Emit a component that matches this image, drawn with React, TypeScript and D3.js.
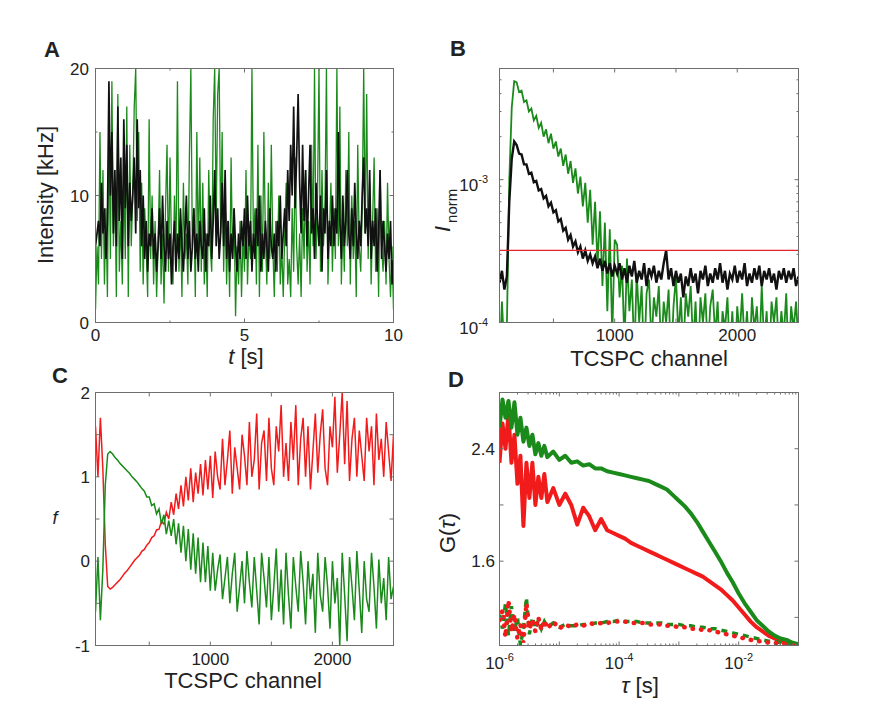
import React from "react";
import * as d3 from "d3";

// ---------------- data ----------------

// A: intensity traces, one value per 0.05 s bin
const binA = 0.05;
const greenA = [
  1, 6, 3, 15, 5, 12, 3, 9, 2, 16, 5, 19, 6, 11, 2, 18, 4, 8, 3, 12,
  5, 17, 2, 14, 6, 10, 17, 20, 8, 15, 4, 11, 3, 9, 6, 2, 16, 5, 10, 3,
  8, 2, 6, 12, 3, 7, 1.5, 9, 14, 4, 13, 6, 3, 10, 5, 19, 4, 8, 2, 11,
  5, 7, 3, 13, 20, 6, 9, 2, 15, 5, 13, 4, 11, 3, 7, 2, 12, 6, 4, 16,
  20, 8, 18, 20, 7, 15, 4, 10, 3, 8, 2, 13, 5, 9, 0.5, 6, 3, 8, 2, 7,
  4, 12, 3, 7, 5, 20, 6, 9, 3, 14, 2, 10, 4, 15, 7, 3, 11, 5, 14, 6,
  2, 8, 4, 10, 3, 6, 2, 7, 11, 3, 5, 2, 9, 4, 13, 6, 3, 7, 2, 9,
  5, 12, 4, 8, 3, 14, 6, 20, 5, 10, 20, 4, 12, 6, 9, 20, 3, 7, 11, 4,
  9, 5, 20, 6, 17, 3, 8, 4, 12, 6, 15, 3, 10, 5, 8, 2, 14, 6, 4, 9,
  20, 7, 18, 5, 11, 3, 8, 13, 4, 9, 2, 12, 6, 4, 8, 3, 11, 5, 2, 6,
  1,
];
const blackA = [
  6, 7, 8, 6, 11, 7, 9, 5, 8, 19, 10, 15, 7, 12, 6, 17, 8, 13, 5, 16,
  9, 14, 6, 11, 8, 10, 13, 7, 16, 9, 12, 6, 10, 5, 8, 4, 7, 6, 9, 5,
  7, 4, 6, 9, 5, 10, 6, 4, 8, 5, 7, 3, 6, 8, 4, 7, 5, 9, 6, 4,
  7, 10, 5, 8, 4, 6, 9, 5, 7, 4, 8, 6, 5, 9, 4, 7, 6, 10, 5, 8,
  12, 6, 9, 5, 7, 11, 6, 12, 5, 8, 4, 7, 5, 9, 6, 4, 7, 5, 8, 6,
  9, 5, 10, 6, 8, 4, 7, 5, 9, 6, 10, 4, 7, 5, 8, 6, 4, 9, 6, 5,
  7, 4, 8, 6, 10, 5, 7, 9, 6, 12, 8, 14, 10, 17, 9, 13, 18, 11, 7, 14,
  8, 12, 6, 10, 14, 7, 9, 5, 11, 8, 6, 10, 4, 9, 7, 12, 5, 8, 6, 10,
  6, 9, 7, 15, 8, 5, 10, 6, 8, 12, 7, 5, 9, 6, 11, 7, 5, 8, 6, 10,
  13, 7, 9, 6, 12, 5, 8, 6, 9, 4, 7, 12, 5, 8, 6, 4, 7, 5, 8, 3,
  5,
];

// B and C: TCSPC channels 60, 80, ... 2500
const chan0 = 60;
const chanStep = 20;
// B: normalised decays, in units of 1e-4
const blackB = [
  1.9, 2.3, 1.7, 2.1, 7, 14, 18.5,
  17.5, 15.2, 15.0, 12.8, 12.8, 11.0, 11.2, 9.6, 9.8, 8.4, 8.6, 7.4, 7.7, 6.5,
  6.9, 5.9, 6.1, 5.1, 5.3, 4.4, 4.6, 3.8, 4.1, 3.4, 3.7, 3.1, 3.4, 2.8,
  3.2, 2.7, 3.0, 2.6, 2.9, 2.4, 2.8, 2.3, 2.7, 2.2, 2.6, 2.1, 2.5,
  2.2, 2.6, 2.0, 2.4, 1.9, 2.5, 2.1, 2.7, 1.9, 2.3, 2.0, 2.6, 1.8, 2.4, 2.1,
  2.5, 1.9, 2.3, 2.0, 2.6, 3.2, 2.0, 2.4, 1.8, 2.3, 1.9, 2.2, 1.5, 2.1, 1.8,
  2.4, 1.9, 2.2, 1.6, 2.3, 2.0, 2.5, 1.8, 2.2, 1.9, 2.4, 2.0, 2.6, 1.9, 2.3,
  1.7, 2.2, 2.0, 2.5, 1.9, 2.3, 2.0, 2.6, 1.8, 2.2, 1.9, 2.4, 2.0, 2.5, 1.8,
  2.3, 2.0, 2.4, 1.9, 2.2, 1.7, 2.3, 2.0, 2.4, 1.9, 2.3, 2.0, 2.4, 1.8, 2.1,
];
const greenB = [
  0.5, 1.4, 0.6, 0.9, 10, 32, 49,
  48, 41, 42, 35, 36, 30, 31.5, 26, 28, 23, 25, 20, 22.5, 18,
  21, 16.5, 18.5, 14.5, 16.5, 12.5, 15, 11, 13.5, 9.5, 12, 8, 10.5, 6.5,
  9.5, 5, 8.5, 3.5, 7, 2.5, 6, 1.8, 5, 1.2, 4.5, 0.8, 3.8,
  3.5, 1.5, 2.5, 0.7, 2.8, 1.2, 2.0, 0.6, 2.2, 1.0, 1.8, 0.5, 1.6, 2.0, 0.7,
  1.5, 1.1, 1.8, 0.6, 1.4, 1.0, 1.7, 0.5, 1.3, 2.1, 0.8, 1.5, 0.6, 1.6, 1.1,
  1.8, 0.7, 1.4, 0.5, 1.5, 1.0, 1.6, 0.6, 1.3, 1.7, 0.8, 1.4, 0.5, 1.2, 0.9,
  1.5, 0.6, 1.2, 0.5, 1.3, 0.8, 1.6, 0.7, 1.2, 0.5, 1.5, 0.9, 1.3, 0.6, 1.8,
  0.7, 1.2, 0.5, 1.4, 1.0, 1.5, 0.6, 1.2, 0.8, 1.6, 0.5, 1.3, 0.9, 1.4, 0.7,
];
const thresholdB = 3.2;

// C: filter functions
const redC = [
  1.6, 1.0, 1.7, 1.1, 0.2,
  -0.3, -0.33, -0.31, -0.28, -0.25, -0.22, -0.18, -0.14, -0.11, -0.07, -0.03,
  0.01, 0.04, 0.07, 0.12, 0.14, 0.19, 0.22, 0.28, 0.3, 0.37, 0.38, 0.47, 0.44,
  0.58, 0.5, 0.7, 0.55, 0.8, 0.62, 0.9, 0.65, 1.0, 0.72, 1.1, 0.7, 1.05, 0.8,
  1.15, 0.78, 1.2, 0.85, 1.25,
  0.75, 1.3, 1.0, 0.85, 1.45, 0.9, 1.2, 1.55, 0.8, 1.35, 1.1, 0.85, 1.5, 1.25, 0.9,
  1.65, 1.0, 1.2, 1.75, 0.85, 1.4, 1.55, 0.95, 1.7, 1.1, 0.9, 1.6, 1.3, 1.85, 1.0,
  1.4, 0.95, 1.65, 1.2, 1.85, 0.9, 1.45, 1.7, 1.0, 1.6, 0.85, 1.3, 1.75, 1.05, 1.5,
  1.8, 1.1, 0.9, 1.6, 1.35, 1.95, 1.05, 1.5, 2.0, 1.15, 1.9, 0.95, 1.45, 1.7, 1.0,
  1.55, 1.25, 0.95, 1.7, 1.3, 1.6, 0.9, 1.75, 1.2, 1.45, 1.0, 1.65, 1.3, 0.95, 1.5,
];
const greenC = [
  -0.6, 0.05, -0.7, -0.1, 0.9,
  1.27, 1.3, 1.27, 1.23, 1.2, 1.16, 1.13, 1.1, 1.07, 1.04, 1.0,
  0.97, 0.94, 0.9, 0.86, 0.83, 0.76, 0.76, 0.66, 0.68, 0.56, 0.62, 0.44, 0.55,
  0.32, 0.48, 0.3, 0.5, 0.2, 0.45, 0.1, 0.42, 0.0, 0.38, -0.1, 0.33, -0.15, 0.28,
  -0.25, 0.22, -0.25, 0.18, -0.35,
  0.1, -0.35, -0.1, 0.08, -0.45, -0.2, 0.05, -0.5, -0.15, 0.1, -0.6, -0.3, 0.0, -0.5, 0.12,
  -0.25, -0.55, 0.05, -0.35, -0.75, 0.1, -0.2, -0.55, 0.05, -0.7, -0.3, 0.15, -0.6, -0.1, -0.75,
  0.1, -0.4, -0.8, 0.05, -0.3, -0.6, 0.12, -0.25, -0.75, 0.0, -0.45, -0.15, -0.85, 0.1, -0.4,
  -0.6, 0.05, -0.3, -0.8, 0.0, -0.5, -0.2, -1.0, 0.1, -0.4, -0.95, 0.05, -0.3, -0.7, 0.12,
  -0.35, -0.85, 0.0, -0.45, -0.6, 0.1, -0.3, -0.8, 0.02, -0.5, -0.2, -0.7, 0.05, -0.45, -0.3,
];

// D: correlation curves, lag time as log10(tau / s)
const lagExpD = [
  -6, -5.95, -5.9, -5.85, -5.8, -5.75, -5.7, -5.65, -5.6, -5.55, -5.5, -5.45,
  -5.4, -5.35, -5.3, -5.25, -5.2, -5.1, -5.0, -4.9, -4.8, -4.7, -4.6, -4.5,
  -4.4, -4.3, -4.2, -4.1, -4.0, -3.9, -3.8, -3.7, -3.6, -3.5, -3.4, -3.3,
  -3.2, -3.1, -3.0, -2.9, -2.8, -2.7, -2.6, -2.5, -2.4, -2.3, -2.2, -2.1,
  -2.0, -1.9, -1.8, -1.7, -1.6, -1.5, -1.4, -1.3, -1.2, -1.1, -1.0,
];
const greenD = [
  2.55, 2.75, 2.62, 2.74, 2.55, 2.73, 2.5, 2.62, 2.45, 2.55, 2.42, 2.5,
  2.36, 2.44, 2.35, 2.42, 2.34, 2.38, 2.32, 2.35, 2.3, 2.31, 2.28, 2.29,
  2.26, 2.26, 2.24, 2.23, 2.22, 2.21, 2.2, 2.19, 2.18, 2.17, 2.15, 2.13,
  2.11, 2.07, 2.03, 1.99, 1.94, 1.88, 1.81, 1.74, 1.67, 1.6, 1.52, 1.45,
  1.37, 1.3, 1.24, 1.18, 1.14, 1.1, 1.07, 1.05, 1.04, 1.02, 1.01,
];
const redD = [
  2.3, 2.58, 2.4, 2.65, 2.3, 2.5, 2.15, 2.35, 1.85, 2.3, 2.05, 2.3,
  2.0, 2.2, 2.05, 2.22, 2.02, 2.12, 2.0, 2.08, 2.0, 1.86, 1.98, 1.92,
  1.82, 1.9, 1.82, 1.8, 1.78, 1.76, 1.73, 1.71, 1.69, 1.67, 1.65, 1.63,
  1.61, 1.59, 1.57, 1.55, 1.53, 1.51, 1.49, 1.46, 1.43, 1.4, 1.36, 1.32,
  1.27, 1.22, 1.17, 1.13, 1.1, 1.07, 1.05, 1.03, 1.02, 1.01, 1.0,
];
const greenDotD = [
  1.22, 1.12, 1.3, 1.07, 1.28, 1.1, 1.2, 1.0, 1.12, 1.34, 1.08, 1.2,
  1.12, 1.18, 1.12, 1.17, 1.13, 1.16, 1.13, 1.15, 1.14, 1.14, 1.15, 1.15,
  1.16, 1.16, 1.17, 1.17, 1.18, 1.17, 1.17, 1.17, 1.16, 1.16, 1.16, 1.16,
  1.15, 1.15, 1.15, 1.14, 1.14, 1.13, 1.13, 1.12, 1.12, 1.11, 1.1, 1.09,
  1.08, 1.07, 1.06, 1.05, 1.04, 1.03, 1.03, 1.02, 1.01, 1.01, 1.0,
];
const redDotD = [
  1.18, 1.25, 1.06, 1.32, 1.1, 1.22, 1.05, 1.15, 1.02, 1.3, 1.12, 1.18,
  1.1, 1.2, 1.11, 1.18, 1.12, 1.17, 1.12, 1.15, 1.13, 1.15, 1.14, 1.16,
  1.15, 1.16, 1.16, 1.17, 1.17, 1.17, 1.16, 1.16, 1.16, 1.15, 1.15, 1.15,
  1.14, 1.14, 1.13, 1.13, 1.12, 1.12, 1.11, 1.11, 1.1, 1.09, 1.08, 1.07,
  1.06, 1.05, 1.04, 1.03, 1.03, 1.02, 1.02, 1.01, 1.01, 1.0, 1.0,
];

// tick labels
const xLabelsA = [0, 5, 10];
const yLabelsA = [0, 10, 20];
const xLabelsBC = [1000, 2000];
const yLabelsB = [-4, -3];
const yLabelsC = [-1, 0, 1, 2];
const xLabelsD = [-6, -4, -2];
const yLabelsD = ["1.6", "2.4"];

// ---------------- drawing ----------------

const GREEN = "#1a8a1a";
const RED = "#f21b1b";
const FRAME = "#6e6e6e";
const FONT = "'Liberation Sans', Arial, Helvetica, sans-serif";

type Scale = (v: number) => number;
type AnyScale = { (v: number): number; range(): number[] };
type Tick = [number, number];

function Box({ id, x, y, xt, yt, children }: {
  id: string; x: AnyScale; y: AnyScale; xt: Tick[]; yt: Tick[]; children: React.ReactNode;
}) {
  const [l, r] = x.range();
  const [b, t] = y.range();
  return (
    <g>
      <clipPath id={id}>
        <rect x={l} y={t} width={r - l} height={b - t} />
      </clipPath>
      <g clipPath={`url(#${id})`}>{children}</g>
      <g stroke={FRAME} strokeWidth={1}>
        {xt.map(([v, len], i) => (
          <g key={"x" + i}>
            <line x1={x(v)} x2={x(v)} y1={b} y2={b - len} />
            <line x1={x(v)} x2={x(v)} y1={t} y2={t + len} />
          </g>
        ))}
        {yt.map(([v, len], i) => (
          <g key={"y" + i}>
            <line x1={l} x2={l + len} y1={y(v)} y2={y(v)} />
            <line x1={r} x2={r - len} y1={y(v)} y2={y(v)} />
          </g>
        ))}
      </g>
      <rect x={l} y={t} width={r - l} height={b - t} fill="none" stroke={FRAME} strokeWidth={1} />
    </g>
  );
}

const ticks = (major: number[], minor: number[]): Tick[] =>
  [...major.map((v): Tick => [v, 4]), ...minor.map((v): Tick => [v, 2])];

const pow10 = (e: number) => (
  <>
    10<tspan dy={-8} fontSize={11}>{`-${Math.abs(e)}`}</tspan>
  </>
);

export default function App() {
  // scales
  const xA = d3.scaleLinear().domain([0, 10]).range([95.5, 393.5]);
  const yA = d3.scaleLinear().domain([0, 20]).range([322.5, 68.5]);
  const xB = d3.scaleLinear().domain([60, 2500]).range([499.5, 798.5]);
  const yB = d3.scaleLog().domain([1e-4, 6e-3]).range([322.5, 68.5]);
  const xC = d3.scaleLinear().domain([60, 2500]).range([95.5, 393.5]);
  const yC = d3.scaleLinear().domain([-1, 2]).range([645.5, 392.5]);
  const xD = d3.scaleLog().domain([1e-6, 1e-1]).range([499.5, 798.5]);
  const yD = d3.scaleLinear().domain([1.0, 2.8]).range([645.5, 392.5]);

  const trace = (xs: Scale, ys: Scale, xOf: (i: number) => number) =>
    d3.line<number>().x((_, i) => xs(xOf(i))).y((d) => ys(d));

  const lineA = trace(xA, yA, (i) => i * binA);
  const chan = (i: number) => chan0 + i * chanStep;
  const lineB = trace(xB, (v) => yB(v * 1e-4), chan);
  const lineC = trace(xC, yC, chan);
  const lineD = trace(xD, yD, (i) => Math.pow(10, lagExpD[i]));

  const logMinor = (decades: number[], upTo: number) =>
    decades.flatMap((d) => d3.range(2, 10).map((k) => k * Math.pow(10, d))).filter((v) => v < upTo);

  const txt = { fontFamily: FONT, fill: "#222" };

  return (
    <svg width={894} height={724} style={{ position: "absolute", left: 0, top: 0, background: "#fff" }}>
      <rect width={894} height={724} fill="#fff" />

      {/* ---------- A ---------- */}
      <Box id="clipA" x={xA} y={yA} xt={ticks([0, 5, 10], [2.5, 7.5])} yt={ticks([0, 10, 20], [5, 15])}>
        <path d={lineA(greenA) || ""} fill="none" stroke={GREEN} strokeWidth={1.3} />
        <path d={lineA(blackA) || ""} fill="none" stroke="#111" strokeWidth={1.7} />
      </Box>
      <g {...txt} fontSize={17}>
        {xLabelsA.map((v) => (
          <text key={v} x={xA(v)} y={341} textAnchor="middle">{v}</text>
        ))}
        {yLabelsA.map((v) => (
          <text key={v} x={89} y={yA(v) + 6} textAnchor="end">{v}</text>
        ))}
      </g>
      <text {...txt} x={52} y={57} fontSize={22} fontWeight="bold" textAnchor="middle">A</text>
      <text {...txt} x={246} y={364} fontSize={22} textAnchor="middle">
        <tspan fontStyle="italic">t</tspan> [s]
      </text>
      <text {...txt} fontSize={22} textAnchor="middle" transform="translate(53,195) rotate(-90)">
        Intensity [kHz]
      </text>

      {/* ---------- B ---------- */}
      <Box id="clipB" x={xB} y={yB} xt={ticks([500, 1000, 1500, 2000], [])}
        yt={ticks([1e-4, 1e-3], logMinor([-4, -3], 6e-3))}>
        <path d={lineB(greenB) || ""} fill="none" stroke={GREEN} strokeWidth={1.8} />
        <path d={lineB(blackB) || ""} fill="none" stroke="#111" strokeWidth={2.4} />
        <line x1={xB(60)} x2={xB(2500)} y1={yB(thresholdB * 1e-4)} y2={yB(thresholdB * 1e-4)}
          stroke="#e3262b" strokeWidth={1.3} />
      </Box>
      <g {...txt} fontSize={17}>
        {xLabelsBC.map((v) => (
          <text key={v} x={xB(v)} y={341} textAnchor="middle">{v}</text>
        ))}
        {yLabelsB.map((e) => (
          <text key={e} x={488} y={yB(Math.pow(10, e)) + 11} textAnchor="end">{pow10(e)}</text>
        ))}
      </g>
      <text {...txt} x={458} y={56} fontSize={22} fontWeight="bold" textAnchor="middle">B</text>
      <text {...txt} x={649} y={366} fontSize={22} textAnchor="middle">TCSPC channel</text>
      <text {...txt} fontSize={22} transform="translate(450,232) rotate(-90)">
        <tspan fontStyle="italic">I</tspan>
        <tspan fontSize={15} dx={3} dy={7}>norm</tspan>
      </text>

      {/* ---------- C ---------- */}
      <Box id="clipC" x={xC} y={yC} xt={ticks([500, 1000, 1500, 2000], [])}
        yt={ticks([-1, -0.5, 0, 0.5, 1, 1.5, 2], [])}>
        <path d={lineC(redC) || ""} fill="none" stroke={RED} strokeWidth={1.5} />
        <path d={lineC(greenC) || ""} fill="none" stroke={GREEN} strokeWidth={1.5} />
      </Box>
      <g {...txt} fontSize={17}>
        {xLabelsBC.map((v) => (
          <text key={v} x={xC(v)} y={665} textAnchor="middle">{v}</text>
        ))}
        {yLabelsC.map((v) => (
          <text key={v} x={90} y={yC(v) + 6} textAnchor="end">{v}</text>
        ))}
      </g>
      <text {...txt} x={60} y={383} fontSize={22} fontWeight="bold" textAnchor="middle">C</text>
      <text {...txt} x={243} y={688} fontSize={22} textAnchor="middle">TCSPC channel</text>
      <text {...txt} x={55} y={524} fontSize={18} fontStyle="italic" textAnchor="middle">f</text>

      {/* ---------- D ---------- */}
      <Box id="clipD" x={xD} y={yD}
        xt={ticks([-6, -5, -4, -3, -2, -1].map((e) => Math.pow(10, e)), logMinor([-6, -5, -4, -3, -2], 0.1))}
        yt={ticks([1.2, 1.6, 2.0, 2.4, 2.8], [])}>
        <path d={lineD(redD) || ""} fill="none" stroke={RED} strokeWidth={4} strokeLinejoin="round" />
        <path d={lineD(greenD) || ""} fill="none" stroke={GREEN} strokeWidth={4} strokeLinejoin="round" />
        <path d={lineD(greenDotD) || ""} fill="none" stroke={GREEN} strokeWidth={3.5} strokeDasharray="6 5" />
        <path d={lineD(redDotD) || ""} fill="none" stroke={RED} strokeWidth={4.5}
          strokeDasharray="0.5 8" strokeLinecap="round" />
      </Box>
      <g {...txt} fontSize={17}>
        {xLabelsD.map((e) => (
          <text key={e} x={xD(Math.pow(10, e))} y={669} textAnchor="middle">{pow10(e)}</text>
        ))}
        {yLabelsD.map((v) => (
          <text key={v} x={495} y={yD(+v) + 6} textAnchor="end">{v}</text>
        ))}
      </g>
      <text {...txt} x={456} y={387} fontSize={22} fontWeight="bold" textAnchor="middle">D</text>
      <text {...txt} x={640} y={693} fontSize={22} textAnchor="middle">
        <tspan fontStyle="italic">τ</tspan> [s]
      </text>
      <text {...txt} fontSize={22} textAnchor="middle" transform="translate(455,533) rotate(-90)">
        G(<tspan fontStyle="italic">τ</tspan>)
      </text>
    </svg>
  );
}
